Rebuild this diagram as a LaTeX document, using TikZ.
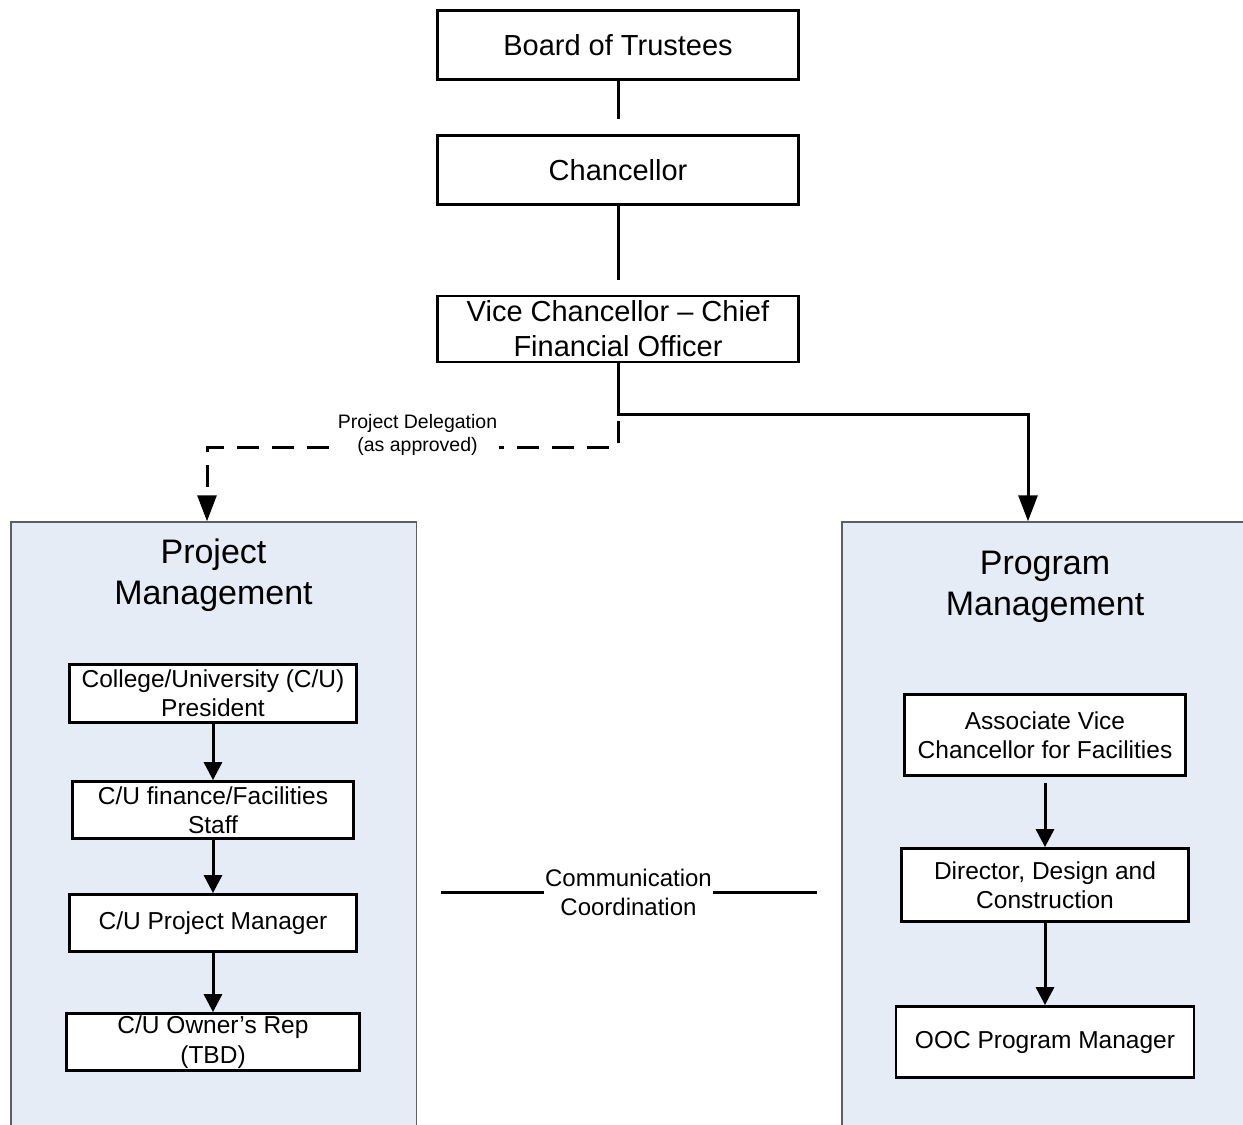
\documentclass[tikz,border=0pt]{standalone}
\usepackage{fontspec}
\setmainfont{Liberation Sans}
\usetikzlibrary{arrows.meta}
\definecolor{panelfill}{RGB}{230,236,246}
\definecolor{panelline}{RGB}{95,95,95}
\begin{document}
\begin{tikzpicture}[x=1pt,y=-1pt,
  box/.style={draw=black, line width=2.8pt, fill=white, inner sep=0pt, align=center},
  topbox/.style={box, minimum width=361pt, minimum height=69pt, font=\fontsize{29}{35}\selectfont},
  subbox/.style={box, font=\fontsize{24.5}{29.4}\selectfont},
  panel/.style={draw=panelline, line width=1.5pt, fill=panelfill, inner sep=0pt, minimum width=405.5pt, minimum height=610pt},
  ptitle/.style={align=center, font=\fontsize{34}{41}\selectfont, inner sep=0pt},
  conn/.style={line width=3pt},
  bigarrow/.style={conn, -{Triangle[length=26pt,width=19pt]}},
  smallarrow/.style={conn, -{Triangle[length=18pt,width=18pt]}},
  dashconn/.style={bigarrow, dash pattern=on 22pt off 13pt, dash phase=12pt},
  lbl/.style={fill=white, align=center, inner ysep=1pt}
]
\useasboundingbox (0,0) rectangle (1243,1125);

% panels
\node[panel] (pjm) at (213.5,827) {};
\node[panel] (pgm) at (1044.5,827) {};
\node[ptitle] (pjmt) at (213.5,575.5) {Project\\Management};
\node[ptitle] (pgmt) at (1045,587) {Program\\Management};

% top chain
\node[topbox] (bot) at (618,45) {Board of Trustees};
\node[topbox] (chan) at (618,170) {Chancellor};
\node[topbox, minimum height=66pt] (vcfo) at (618,329) {Vice Chancellor – Chief\\Financial Officer};

% project management boxes
\node[subbox, minimum width=287pt, minimum height=58pt] (pres) at (213,693.5) {College/University (C/U)\\President};
\node[subbox, minimum width=281pt, minimum height=57pt] (fin) at (213,810) {C/U finance/Facilities\\Staff};
\node[subbox, minimum width=287pt, minimum height=57pt] (cupm) at (213,923) {C/U Project Manager};
\node[subbox, minimum width=293pt, minimum height=57pt] (own) at (213,1042) {C/U Owner’s Rep\\(TBD)};

% program management boxes
\node[subbox, minimum width=281pt, minimum height=81pt] (avc) at (1045,735) {Associate Vice\\Chancellor for Facilities};
\node[subbox, minimum width=287pt, minimum height=73pt] (dir) at (1045,885) {Director, Design and\\Construction};
\node[subbox, minimum width=298pt, minimum height=71pt] (ooc) at (1045,1042) {OOC Program Manager};

% connectors
\draw[conn, shorten >=15pt] (bot) -- (chan);
\draw[conn, shorten >=15pt] (chan) -- (vcfo);
\draw[bigarrow] (vcfo.south) -- ++(0,51) -| ([xshift=-16.5pt]pgm.north);
\draw[dashconn] (vcfo.south) -- ++(0,84) -| ([xshift=-6.5pt]pjm.north);
\node[lbl, font=\fontsize{19.5}{23.5}\selectfont, inner xsep=2pt] (deleg) at (417.5,435) {Project Delegation\\(as approved)};

\draw[smallarrow] (pres) -- (fin);
\draw[smallarrow] (fin) -- (cupm);
\draw[smallarrow] (cupm) -- (own);
\draw[smallarrow, shorten <=6pt] (avc) -- (dir);
\draw[smallarrow] (dir) -- (ooc);

% communication
\coordinate (cl) at (441,892);
\coordinate (cr) at (817,892);
\draw[conn] (cl) -- (cr);
\node[lbl, font=\fontsize{24}{29}\selectfont, inner xsep=1pt] (comm) at (628.5,892) {Communication\\Coordination};
\end{tikzpicture}
\end{document}
